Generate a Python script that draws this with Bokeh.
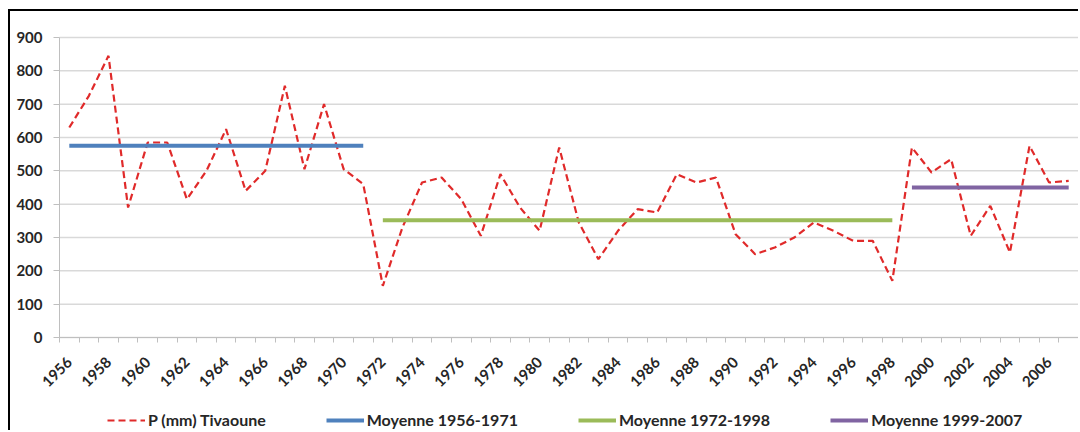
import math
from bokeh.plotting import figure
from bokeh.models import Range1d, FixedTicker, Legend, LegendItem
from bokeh.embed import file_html
from bokeh.resources import INLINE

# ---- data ----
years = list(range(1956, 2008))
precip_tivaoune = [630, 725, 845, 390, 585, 585, 415, 500, 625, 440,
                   500, 755, 505, 700, 505, 460, 155, 330, 465, 480,
                   415, 305, 490, 390, 320, 570, 345, 235, 320, 385,
                   375, 490, 465, 480, 310, 250, 270, 300, 345, 320,
                   290, 290, 170, 570, 495, 535, 305, 395, 255, 575,
                   465, 470]

mean_labels = ["Moyenne 1956-1971", "Moyenne 1972-1998", "Moyenne 1999-2007"]
mean_start = [1956, 1972, 1999]
mean_end = [1971, 1998, 2007]
mean_values = [575, 352, 450]
mean_colors = ["#4F81BD", "#9BBB59", "#8064A2"]

y_ticks = [0, 100, 200, 300, 400, 500, 600, 700, 800, 900]
x_label_years = list(range(1956, 2007, 2))

FONT = "Lato"
TXT = "#262626"
GRID = "#d9d9d9"
AXIS = "#bfbfbf"

# ---- geometry of the canvas (pixels) ----
W, H = 1070, 421
TOP = 26            # canvas top -> 900 line
PLOT_LEFT = 49      # canvas left -> value axis
RIGHT = 2
y_px = 300 / 900.0
Y_TOP = y_ticks[-1] + TOP / y_px
y_bottom = Y_TOP - H / y_px

x_lo, x_hi = years[0] - 0.5, years[-1] + 0.5
x_px = (W - RIGHT - PLOT_LEFT) / (x_hi - x_lo)
x_start = x_lo - PLOT_LEFT / x_px

p = figure(width=W, height=H, output_backend="svg", toolbar_location=None,
           x_range=Range1d(x_start, x_hi), y_range=Range1d(y_bottom, Y_TOP),
           min_border_left=0, min_border_right=RIGHT, min_border_top=0,
           min_border_bottom=0,
           styles={"margin-left": "8px", "margin-top": "9px",
                   "border-left": "2px solid #000", "border-top": "2px solid #000"})
p.outline_line_color = None
p.background_fill_color = "white"
p.border_fill_color = "white"
p.xgrid.grid_line_color = None
p.ygrid.grid_line_color = None

# horizontal gridlines across the plot area only
p.segment(x0=[x_lo] * len(y_ticks), x1=[x_hi] * len(y_ticks), y0=y_ticks, y1=y_ticks,
          line_color=GRID, line_width=1.5, level="underlay")

# value axis
p.yaxis.fixed_location = x_lo
p.yaxis.bounds = (y_ticks[0], y_ticks[-1])
p.yaxis.ticker = FixedTicker(ticks=y_ticks)
p.yaxis.axis_line_color = AXIS
p.yaxis.major_tick_line_color = AXIS
p.yaxis.major_tick_out = 6
p.yaxis.major_tick_in = 0
p.yaxis.minor_tick_line_color = None
p.yaxis.major_label_standoff = 11
p.yaxis.major_label_text_font = FONT
p.yaxis.major_label_text_font_style = "bold"
p.yaxis.major_label_text_font_size = "15px"
p.yaxis.major_label_text_color = TXT

# category axis
p.xaxis.fixed_location = 0
p.xaxis.bounds = (x_lo, x_hi)
p.xaxis.ticker = FixedTicker(ticks=x_label_years,
                             minor_ticks=[y - 0.5 for y in years] + [x_hi])
p.xaxis.major_label_overrides = {y: str(y) for y in x_label_years}
p.xaxis.axis_line_color = AXIS
p.xaxis.major_tick_line_color = None
p.xaxis.minor_tick_line_color = AXIS
p.xaxis.minor_tick_out = 5
p.xaxis.minor_tick_in = 0
p.xaxis.major_label_orientation = math.pi / 4
p.xaxis.major_label_standoff = 16
p.xaxis.major_label_text_font = FONT
p.xaxis.major_label_text_font_style = "bold"
p.xaxis.major_label_text_font_size = "15px"
p.xaxis.major_label_text_color = TXT

# series
r_p = p.line(years, precip_tivaoune, line_color="#e02a2a", line_width=2.2,
             line_dash="7 4")
mean_renderers = []
for s, e, v, c in zip(mean_start, mean_end, mean_values, mean_colors):
    mean_renderers.append(p.line([s, e], [v, v], line_color=c, line_width=4))

labels = ["P (mm) Tivaoune"] + mean_labels
renderers = [r_p] + mean_renderers
legend = Legend(items=[LegendItem(label=l, renderers=[r]) for l, r in zip(labels, renderers)],
                location=(97, 3), orientation="horizontal", padding=0, margin=0,
                spacing=60, glyph_width=38, glyph_height=18, label_standoff=3,
                label_height=18, border_line_alpha=0, background_fill_alpha=0,
                label_text_font=FONT, label_text_font_style="bold",
                label_text_font_size="16px", label_text_color=TXT)
p.add_layout(legend, "center")

open("out.html", "w").write(file_html(p, INLINE))
